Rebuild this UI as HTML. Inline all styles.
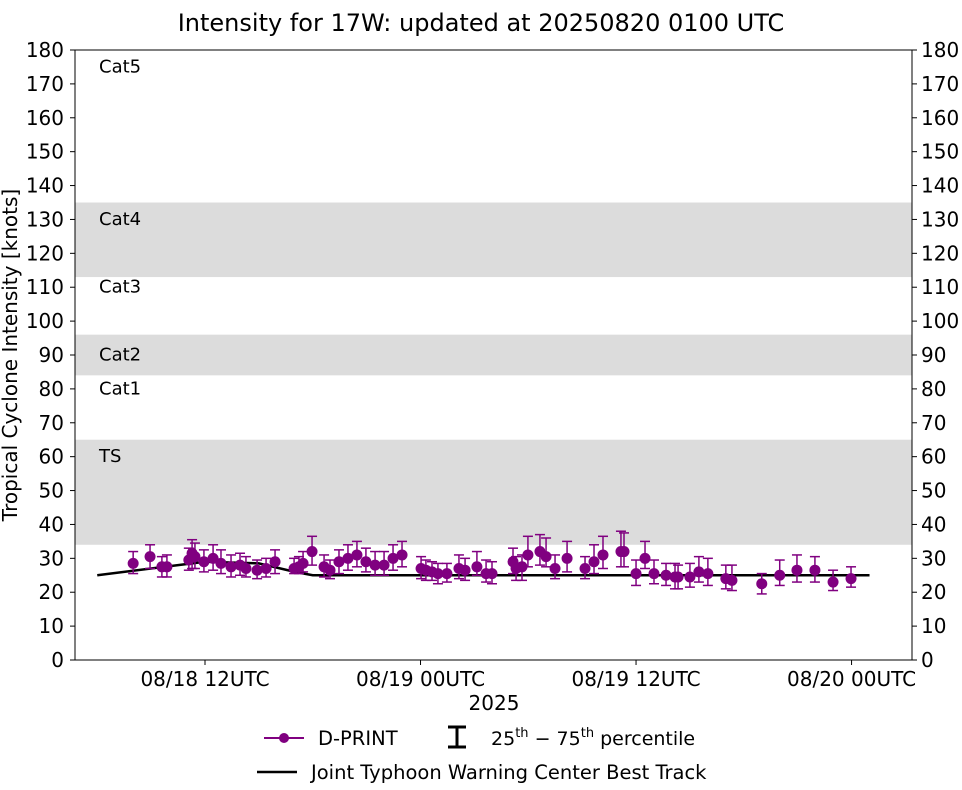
<!DOCTYPE html>
<html><head><meta charset="utf-8"><style>
body{margin:0;background:#fff;}
svg text{font-family:"DejaVu Sans","Liberation Sans",sans-serif;}
</style></head><body>
<svg id="chart" width="962" height="785" xmlns="http://www.w3.org/2000/svg">
<text x="481" y="31" font-size="24" text-anchor="middle">Intensity for 17W: updated at 20250820 0100 UTC</text>
<g id="bands"></g>
<g id="grid"></g>
<g id="track"></g>
<g id="points"></g>
<rect x="75" y="50" width="837" height="610" fill="none" stroke="#000" stroke-width="1"/>
<text transform="translate(17,355) rotate(-90)" font-size="20" text-anchor="middle">Tropical Cyclone Intensity [knots]</text>
<text x="494" y="710" font-size="20" text-anchor="middle">2025</text>
<g>
<line x1="264" y1="738" x2="304" y2="738" stroke="#800080" stroke-width="2"/>
<circle cx="284" cy="738" r="5" fill="#800080"/>
<text x="318" y="745" font-size="19.5">D-PRINT</text>
<line x1="457" y1="727" x2="457" y2="747" stroke="#000" stroke-width="3"/>
<line x1="448" y1="727" x2="466" y2="727" stroke="#000" stroke-width="3"/>
<line x1="448" y1="747" x2="466" y2="747" stroke="#000" stroke-width="3"/>
<text x="491" y="745" font-size="19">25<tspan font-size="13" dy="-8">th</tspan><tspan dy="8"> − 75</tspan><tspan font-size="13" dy="-8">th</tspan><tspan dy="8"> percentile</tspan></text>
<line x1="257" y1="772" x2="297" y2="772" stroke="#000" stroke-width="2.5"/>
<text x="311" y="779" font-size="19.5">Joint Typhoon Warning Center Best Track</text>
</g>
</svg>
<script>
const times=[8.0,8.94,9.6,9.88,11.1,11.28,11.44,11.94,12.45,12.89,13.45,13.95,14.28,14.9,15.4,15.9,16.96,17.23,17.46,17.96,18.63,18.96,19.46,19.96,20.46,20.96,21.47,21.97,22.47,22.97,24.03,24.3,24.64,24.97,25.47,26.14,26.48,27.14,27.65,27.98,29.15,29.32,29.65,29.98,30.65,30.99,31.49,32.16,33.16,33.66,34.16,35.16,35.33,36.0,36.5,37.0,37.67,38.17,38.34,39.0,39.5,40.0,41.0,41.34,43.0,44.0,44.96,45.96,46.97,47.97];
const vals=[28.5,30.5,27.5,27.5,29.5,31.5,30.5,29,30,28.5,27.5,28,27,26.5,27,29,27,27.5,28.5,32,27.5,26.5,29,30,31,29,28,28,30,31,27,26.5,26,25.5,25.5,27,26.5,27.5,25.5,25.5,29,27,27.5,31,32,30.5,27,30,27,29,31,32,32,25.5,30,25.5,25,24.5,24.5,24.5,26,25.5,24,23.5,22.5,25,26.5,26.5,23,24];
const p25=[25.5,27,24.5,24.5,26.5,27,27,26,26.5,25.5,24.5,25,24.5,24,24.5,25.5,25.5,25.5,26,28,24.5,24,25.5,26.5,27.5,26,25,25,26.5,27.5,24,23.5,23.5,22.5,23,24,23.5,25,23,22.5,25.5,23.5,23.5,27.5,28,27.5,24,26,24,25.5,27,27.5,27.5,22,27,22.5,22,21,21,21.5,23,22,21,20.5,19.5,22,23,23,20.5,21.5];
const p75=[32,34,30.5,31,33,35.5,34.5,32.5,34,32.5,31,31.5,30.5,29.5,30,32.5,30,30.5,32,36.5,31,29.5,32.5,34,35,33,32,32,34,35,30.5,29.5,29,28.5,28.5,31,30,32,29.5,29,33,30.5,31,36.5,37,36,31,35,30.5,34,36.5,38,37.5,29.5,35,29.5,28.5,28.5,28,28.5,30.5,30,28,28,25.5,29.5,31,30.5,26.5,27.5];
const trackTimes=[6,12,15,17,18,24,30,36,42,49];
const trackVals=[25,29,28.5,26,25,25,25,25,25,25];
const yTicks=[0,10,20,30,40,50,60,70,80,90,100,110,120,130,140,150,160,170,180];
const xTickTimes=[12,24,36,48];
const xTickLabels=["08/18 12UTC","08/19 00UTC","08/19 12UTC","08/20 00UTC"];
const bandsLo=[34,84,113];
const bandsHi=[65,96,135];
const catLabels=["TS","Cat1","Cat2","Cat3","Cat4","Cat5"];
const catVals=[59,79,89,109,129,174];

const NS="http://www.w3.org/2000/svg";
const X=t=>205+(t-12)*17.96;
const Y=v=>660-v*610/180;
function mk(tag,attrs,parent,txt){const e=document.createElementNS(NS,tag);for(const k in attrs)e.setAttribute(k,attrs[k]);if(txt!==undefined)e.textContent=txt;document.getElementById(parent).appendChild(e);return e;}
bandsLo.forEach((lo,i)=>{const e=mk('rect',{x:75,y:Y(bandsHi[i]),width:837,height:Y(lo)-Y(bandsHi[i]),fill:'#dcdcdc'},'bands');

});
catLabels.forEach((c,i)=>{const e=mk('text',{x:99,y:Y(catVals[i])+2,'font-size':18},'bands',c);

});
yTicks.forEach(v=>{const y=Y(v);
mk('line',{x1:70,y1:y,x2:75,y2:y,stroke:'#000'},'grid');
mk('line',{x1:912,y1:y,x2:917,y2:y,stroke:'#000'},'grid');
const a=mk('text',{x:64,y:y+7,'font-size':20,'text-anchor':'end'},'grid',v);


const b=mk('text',{x:921,y:y+7,'font-size':20},'grid',v);

});
xTickTimes.forEach((t,i)=>{const x=X(t);
mk('line',{x1:x,y1:660,x2:x,y2:665,stroke:'#000'},'grid');
const e=mk('text',{x:x,y:686,'font-size':20,'text-anchor':'middle'},'grid',xTickLabels[i]);

});
const tl=mk('polyline',{points:trackTimes.map((t,i)=>X(t)+','+Y(trackVals[i])).join(' '),fill:'none',stroke:'#000','stroke-width':2.5},'track');


times.forEach((t,i)=>{const x=X(t);
mk('line',{x1:x,y1:Y(p25[i]),x2:x,y2:Y(p75[i]),stroke:'#800080','stroke-width':1.5},'points');
mk('line',{x1:x-5,y1:Y(p25[i]),x2:x+5,y2:Y(p25[i]),stroke:'#800080','stroke-width':1.5},'points');
mk('line',{x1:x-5,y1:Y(p75[i]),x2:x+5,y2:Y(p75[i]),stroke:'#800080','stroke-width':1.5},'points');
const c=mk('circle',{cx:x,cy:Y(vals[i]),r:5.5,fill:'#800080'},'points');

});
</script>
</body></html>
